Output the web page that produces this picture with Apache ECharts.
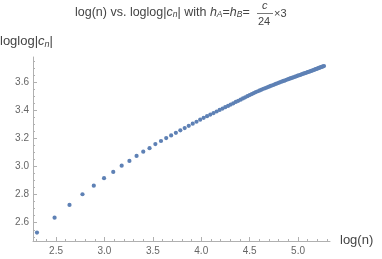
<!DOCTYPE html>
<html><head><meta charset="utf-8">
<script src="https://cdn.jsdelivr.net/npm/echarts@6/dist/echarts.min.js"></script>
<style>html,body{margin:0;padding:0;background:#fff}#c{width:382px;height:259px}</style>
</head><body><div id="c"></div>
<script>
// log(n) for n = 10, 12, ..., 194
const logN = [
2.303,2.485,2.639,2.773,2.890,2.996,3.091,3.178,3.258,3.332,
3.401,3.466,3.526,3.584,3.638,3.689,3.738,3.784,3.829,3.871,
3.912,3.951,3.989,4.025,4.060,4.094,4.127,4.159,4.190,4.220,
4.248,4.277,4.304,4.331,4.357,4.382,4.407,4.431,4.454,4.477,
4.500,4.522,4.543,4.564,4.585,4.605,4.625,4.644,4.663,4.682,
4.700,4.718,4.736,4.754,4.771,4.787,4.804,4.820,4.836,4.852,
4.868,4.883,4.898,4.913,4.927,4.942,4.956,4.970,4.984,4.997,
5.011,5.024,5.037,5.050,5.063,5.075,5.088,5.100,5.112,5.124,
5.136,5.147,5.159,5.170,5.182,5.193,5.204,5.215,5.226,5.236,
5.247,5.257,5.268];
const loglogC = [
2.530,2.636,2.727,2.803,2.864,2.917,2.962,3.006,3.040,3.076,
3.106,3.131,3.160,3.182,3.203,3.222,3.240,3.258,3.274,3.290,
3.305,3.319,3.334,3.347,3.359,3.370,3.381,3.392,3.403,3.413,
3.423,3.432,3.441,3.450,3.460,3.468,3.476,3.485,3.493,3.501,
3.509,3.516,3.523,3.530,3.536,3.542,3.548,3.554,3.559,3.564,
3.569,3.574,3.579,3.584,3.588,3.593,3.597,3.602,3.606,3.610,
3.614,3.618,3.622,3.626,3.629,3.633,3.636,3.640,3.643,3.647,
3.650,3.653,3.657,3.660,3.663,3.666,3.669,3.672,3.675,3.678,
3.681,3.684,3.687,3.690,3.693,3.696,3.699,3.702,3.705,3.708,
3.710,3.713,3.716];
const xMajorTicks = [2.5,3.0,3.5,4.0,4.5,5.0];
const xMinorTicks = [2.3,2.4,2.6,2.7,2.8,2.9,3.1,3.2,3.3,3.4,3.6,3.7,3.8,3.9,4.1,4.2,4.3,4.4,4.6,4.7,4.8,4.9,5.1,5.2,5.3];
const yMajorTicks = [2.6,2.8,3.0,3.2,3.4,3.6];
const yMinorTicks = [2.5,2.55,2.65,2.7,2.75,2.85,2.9,2.95,3.05,3.1,3.15,3.25,3.3,3.35,3.45,3.5,3.55,3.65,3.7,3.75];

const axisGray = '#b0b0b0';
const labelGray = '#666';
const FONT = '"Liberation Sans", Arial, sans-serif';
const chart = echarts.init(document.getElementById('c'), null, {renderer:'canvas'});
const xMin = 2.262, xMax = 5.33, yMin = 2.47, yMax = 3.78;
const data = logN.map((x,i)=>[x, loglogC[i]]);

function baseX(extra){ return Object.assign({type:'value', min:xMin, max:xMax, gridIndex:0, position:'bottom',
  splitLine:{show:false}, axisLine:{onZero:false}}, extra); }
function baseY(extra){ return Object.assign({type:'value', min:yMin, max:yMax, gridIndex:0, position:'left',
  splitLine:{show:false}, axisLine:{onZero:false}}, extra); }

chart.setOption({
  animation:false,
  grid:{left:33, right:52, top:57, bottom:18, containLabel:false},
  xAxis:[
    baseX({axisLine:{show:true,onZero:false,lineStyle:{color:axisGray,width:1}},
      axisTick:{show:true,inside:true,length:4,lineStyle:{color:axisGray},customValues:xMajorTicks},
      axisLabel:{show:true,customValues:xMajorTicks,color:labelGray,fontSize:10,fontFamily:FONT,margin:5,
        formatter:v=>Number(v).toFixed(1)}}),
    baseX({axisLine:{show:false,onZero:false},
      axisTick:{show:true,inside:true,length:2,lineStyle:{color:axisGray},customValues:xMinorTicks},
      axisLabel:{show:false}})
  ],
  yAxis:[
    baseY({axisLine:{show:true,onZero:false,lineStyle:{color:axisGray,width:1}},
      axisTick:{show:true,inside:true,length:4,lineStyle:{color:axisGray},customValues:yMajorTicks},
      axisLabel:{show:true,customValues:yMajorTicks,color:labelGray,fontSize:10,fontFamily:FONT,margin:4,
        formatter:v=>Number(v).toFixed(1)}}),
    baseY({axisLine:{show:false,onZero:false},
      axisTick:{show:true,inside:true,length:2,lineStyle:{color:axisGray},customValues:yMinorTicks},
      axisLabel:{show:false}})
  ],
  series:[{type:'scatter', xAxisIndex:0, yAxisIndex:0, data:data, symbol:'circle', symbolSize:4.2,
    itemStyle:{color:'#5E81B5', opacity:1}, silent:true}],
  graphic:[
    {type:'text', left:75, top:6, style:{
      text:'log(n) vs. loglog|{i|c}{s|n}| with {i|h}{s|A}={i|h}{s|B}=',
      fill:'#444', font:'12.5px '+FONT,
      rich:{i:{fontStyle:'italic',fontSize:12.5,fontFamily:FONT,fill:'#444'},
            s:{fontStyle:'italic',fontSize:8.5,fontFamily:FONT,fill:'#444',padding:[5,0,0,0]}}}},
    {type:'text', x:262, y:0, style:{text:'c', fill:'#444', font:'italic 11px '+FONT}},
    {type:'line', shape:{x1:257,y1:13.5,x2:273,y2:13.5}, style:{stroke:'#555',lineWidth:0.8}},
    {type:'text', x:258, y:16, style:{text:'24', fill:'#444', font:'11px '+FONT}},
    {type:'text', x:274, y:8, style:{text:'×3', fill:'#444', font:'11px '+FONT}},
    {type:'text', x:0, y:34, style:{text:'loglog|{i|c}{s|n}|', fill:'#444', font:'13px '+FONT,
      rich:{i:{fontStyle:'italic',fontSize:13,fontFamily:FONT,fill:'#444'},
            s:{fontStyle:'italic',fontSize:9,fontFamily:FONT,fill:'#444',padding:[6,0,0,0]}}}},
    {type:'text', x:340, y:234, style:{text:'log(n)', fill:'#444', font:'13px '+FONT}}
  ]
});
</script></body></html>
